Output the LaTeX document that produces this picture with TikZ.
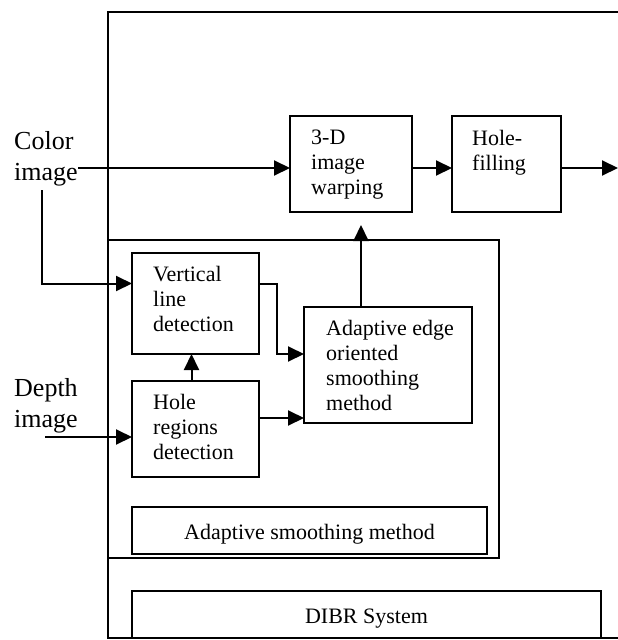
\documentclass[tikz,border=0pt]{standalone}
\usepackage{fontspec}
\setmainfont{Liberation Serif}
\usepackage{tikz}
\usetikzlibrary{positioning,calc,arrows.meta}

\begin{document}
\begin{tikzpicture}[x=1pt, y=-1pt,
    blk/.style={draw, line width=2pt, rectangle, anchor=north west, inner sep=0pt, outer sep=0pt},
    txt/.style={anchor=north west, inner sep=0pt, align=left, font=\fontsize{22}{25}\selectfont},
    bartxt/.style={font=\fontsize{22}{25}\selectfont, text height=22pt, text depth=5pt},
    intxt/.style={anchor=north west, inner sep=0pt, align=left, font=\fontsize{26}{31}\selectfont},
    arr/.style={line width=2pt, -{Triangle[length=16pt, width=15pt]}}]
    \useasboundingbox (0,0) rectangle (618,640);

    \node[blk, minimum width=560pt, minimum height=626pt] (sys) at (108,12) {};
    \node[blk, minimum width=391pt, minimum height=318pt] (ads) at (108,240) {};

    \node[blk, minimum width=122pt, minimum height=96pt] (warp) at (290,116) {};
    \node[txt] (warptxt) at (311,130) {3-D\\image\\warping};
    \node[blk, minimum width=109pt, minimum height=96pt] (hf) at (452,116) {};
    \node[txt] (hftxt) at (472,130) {Hole-\\filling};

    \node[blk, minimum width=127pt, minimum height=101pt] (vld) at (132,253) {};
    \node[txt] (vldtxt) at (153,266) {Vertical\\line\\detection};
    \node[blk, minimum width=127pt, minimum height=96pt] (hrd) at (132,381) {};
    \node[txt] (hrdtxt) at (153,394) {Hole\\regions\\detection};
    \node[blk, minimum width=168pt, minimum height=116pt] (aes) at (304,307) {};
    \node[txt] (aestxt) at (326,320) {Adaptive edge\\oriented\\smoothing\\method};

    \node[blk, bartxt, minimum width=355pt, minimum height=47pt] (asm) at (132,507) {Adaptive smoothing method};
    \node[blk, bartxt, minimum width=469pt, minimum height=47pt] (dibr) at (132,591) {DIBR System};

    \node[intxt] (color) at (14,131) {Color\\image};
    \node[intxt] (depth) at (14,378) {Depth\\image};

    \coordinate (cin) at (78,168);
    \coordinate (cdown) at (42,190);
    \coordinate (din) at (45,437);
    \coordinate (out) at (618,168);

    \draw[arr] (cin) -- (cin -| warp.west);
    \draw[arr] (warp.east |- cin) -- (hf.west |- cin);
    \draw[arr] (hf.east |- cin) -- (out);
    \draw[arr] (cdown) |- ([yshift=20pt]vld.west);
    \draw[arr] ([yshift=20pt]vld.east) -- ++(18,0) |- ([yshift=11pt]aes.west);
    \draw[arr] ([yshift=11pt]hrd.east) -- ([yshift=11pt]hrd.east -| aes.west);
    \draw[arr] ([xshift=-4pt]hrd.north) -- ([xshift=-4pt]vld.south);
    \draw[arr] (din) -- (din -| hrd.west);
    \draw[arr] ([xshift=-27pt]aes.north) -- ++(0,-82);
\end{tikzpicture}
\end{document}
